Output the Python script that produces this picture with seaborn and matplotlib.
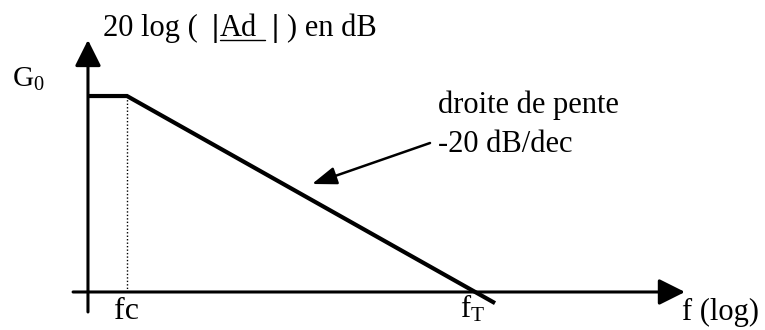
import numpy as np
import matplotlib
matplotlib.use("Agg")
import matplotlib.pyplot as plt
from matplotlib.lines import Line2D
import seaborn as sns

# ==========================================
# 1. DATA : asymptotic Bode plot of |Ad|
# ==========================================
g0_db = 100.0        # plateau G0 (dB)
fc = 10.0            # cut-off frequency
ft = 1e6             # transition frequency (0 dB crossing)

# breakpoints of the drawn asymptote
freqs = [2.75, 10.0, 1.94e6]
gain_db = [100.0, 100.0, -5.7]

labels = {"x": "f (log)", "g0": "G$_0$", "fc": "fc", "ft": "f$_\\mathrm{T}$",
          "slope": ["droite de pente", "-20 dB/dec"]}

# ==========================================
# 2. FIGURE SETUP
# ==========================================
W, H = 765, 330
sns.set_theme(style="white")
plt.rcParams["font.family"] = ["Liberation Serif", "DejaVu Serif"]
plt.rcParams["mathtext.fontset"] = "custom"
plt.rcParams["mathtext.rm"] = "Liberation Serif"
plt.rcParams["mathtext.it"] = "Liberation Serif:italic"
plt.rcParams["text.color"] = "black"

fig = plt.figure(figsize=(W / 100, H / 100), dpi=100)
ax = fig.add_axes([0, 0, 1, 1])
ax.set_xscale("log")
ax.set_xlim(10 ** -0.8247, 10 ** 10.167)
ax.set_ylim(-19.4, 149.0)
ax.axis("off")


def px(x, y):
    # reference pixel -> figure fraction
    return x / W, 1 - y / H


# ==========================================
# 3. CURVE
# ==========================================
sns.lineplot(x=freqs, y=gain_db, ax=ax, color="black", lw=3.0,
             solid_joinstyle="miter", solid_capstyle="butt")
ax.vlines(fc, 0, g0_db, color="black", lw=1.0, linestyles=(0, (1, 1.5)))

# axes with arrow heads
head = dict(arrowstyle="-|>,head_length=0.4,head_width=0.2", color="black",
            lw=2.2, mutation_scale=40, shrinkA=0, shrinkB=0)
ax.annotate("", xy=(1.04e9, 0), xytext=(1.68, 0), arrowprops=head)
ax.annotate("", xy=(freqs[0], 128.6), xytext=(freqs[0], -10.2), arrowprops=head)

# slope pointer
ax.annotate("", xy=(312, H - 184), xytext=(430, H - 143),
            xycoords="figure pixels", textcoords="figure pixels",
            arrowprops=dict(arrowstyle="-|>,head_length=0.5,head_width=0.18",
                            color="black", lw=1.8, mutation_scale=30,
                            shrinkA=0, shrinkB=0))

# ==========================================
# 4. TEXT
# ==========================================
fs = 22
ty = 36
fig.text(*px(103, ty), "20 log (", fontsize=fs, va="baseline")
fig.text(*px(215, ty), "|", fontsize=fs + 1, va="baseline", ha="center",
         fontweight="bold")
fig.text(*px(220, ty), "Ad", fontsize=fs, va="baseline")
fig.add_artist(Line2D([220 / W, 265 / W], [1 - (ty + 4) / H] * 2,
                      transform=fig.transFigure, color="black", lw=1.0))
fig.text(*px(275, ty), "|", fontsize=fs + 1, va="baseline", ha="center",
         fontweight="bold")
fig.text(*px(287, ty), ") en dB", fontsize=fs, va="baseline")

fig.text(*px(12, 87), labels["g0"], fontsize=21, va="baseline")
fig.text(*px(114, 319), labels["fc"], fontsize=23, va="baseline")
fig.text(*px(460, 318), labels["ft"], fontsize=22, va="baseline")
fig.text(*px(682, 320), labels["x"], fontsize=22, va="baseline")
fig.text(*px(438, 113), labels["slope"][0], fontsize=fs, va="baseline")
fig.text(*px(438, 152), labels["slope"][1], fontsize=fs, va="baseline")

plt.savefig("out.png", dpi=100)
